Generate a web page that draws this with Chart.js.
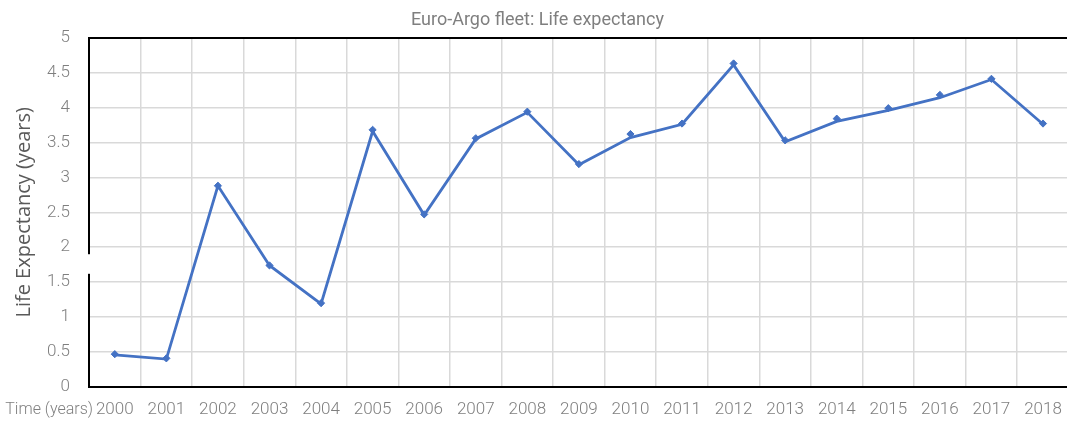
<!DOCTYPE html>
<html>
<head>
<meta charset="utf-8">
<script src="https://cdn.jsdelivr.net/npm/chart.js@4"></script>
<style>
  html, body { margin: 0; padding: 0; background: #fff; overflow: hidden; }
  #wrap { width: 1075px; height: 421px; }
</style>
</head>
<body>
<div id="wrap"><canvas id="lifeChart"></canvas></div>
<script>
// --- data ---
const years = ['2000', '2001', '2002', '2003', '2004', '2005', '2006', '2007', '2008', '2009',
               '2010', '2011', '2012', '2013', '2014', '2015', '2016', '2017', '2018'];
// the drawn line
const lineValues = [0.46, 0.40, 2.88, 1.74, 1.19, 3.66, 2.46, 3.55, 3.93, 3.18,
                    3.57, 3.76, 4.61, 3.51, 3.80, 3.96, 4.14, 4.40, 3.76];
// the diamond markers (sit a little off the line in places)
const markerValues = [0.47, 0.41, 2.88, 1.74, 1.20, 3.68, 2.47, 3.56, 3.94, 3.19,
                      3.62, 3.77, 4.63, 3.53, 3.84, 3.99, 4.18, 4.41, 3.77];
const yTicks = [0, 0.5, 1, 1.5, 2, 2.5, 3, 3.5, 4, 4.5, 5];

const BLUE = '#4472C4';
const TICK_GREY = '#7f7f7f';

// "Time (years)" sits left of the x labels, plus the white patch over the y axis near 1.6-1.9
const extrasPlugin = {
    id: 'extras',
    afterDraw(chart) {
        const { ctx, chartArea, scales } = chart;
        const y = scales.y;
        ctx.save();
        ctx.fillStyle = '#fff';
        const top = y.getPixelForValue(1.9);
        const bot = y.getPixelForValue(1.62);
        ctx.fillRect(chartArea.left - 44, top, 45, bot - top);
        ctx.fillStyle = TICK_GREY;
        ctx.font = '300 16px Roboto';
        ctx.textAlign = 'right';
        ctx.textBaseline = 'middle';
        ctx.fillText('Time (years)', chartArea.left + 4, chartArea.bottom + 23);
        ctx.restore();
    }
};

const ctx = document.getElementById('lifeChart').getContext('2d');
new Chart(ctx, {
    type: 'line',
    data: {
        labels: years,
        datasets: [
            {
                data: lineValues,
                borderColor: BLUE,
                borderWidth: 2.8,
                pointRadius: 0,
                tension: 0
            },
            {
                data: markerValues,
                showLine: false,
                pointStyle: 'rectRot',
                pointRadius: 3.6,
                pointBackgroundColor: BLUE,
                pointBorderColor: BLUE,
                pointBorderWidth: 1
            }
        ]
    },
    options: {
        responsive: true,
        maintainAspectRatio: false,
        animation: false,
        layout: { padding: { left: 0, right: 0, top: 0, bottom: 0 } },
        plugins: {
            legend: { display: false },
            tooltip: { enabled: false },
            title: {
                display: true,
                text: 'Euro-Argo fleet: Life expectancy',
                color: TICK_GREY,
                font: { family: '"Liberation Sans Narrow", Roboto, sans-serif', size: 18, weight: 'normal' },
                padding: { top: 10, bottom: 6 }
            }
        },
        scales: {
            x: {
                offset: true,
                grid: { offset: true, color: '#d9d9d9', lineWidth: 1.5, drawTicks: false },
                border: { color: '#000', width: 2 },
                ticks: {
                    color: TICK_GREY,
                    font: { family: 'Roboto', size: 17, weight: 300 },
                    padding: 13,
                    maxRotation: 0,
                    autoSkip: false
                },
                afterFit(scale) { scale.height = 34; }
            },
            y: {
                min: 0,
                max: 5,
                afterBuildTicks(scale) { scale.ticks = yTicks.map(v => ({ value: v })); },
                grid: {
                    color: c => c.tick && c.tick.value === 5 ? '#000' : '#d9d9d9',
                    lineWidth: c => c.tick && c.tick.value === 5 ? 2 : 1.5,
                    drawTicks: false
                },
                border: { color: '#000', width: 2 },
                ticks: {
                    color: TICK_GREY,
                    font: { family: 'Roboto', size: 17, weight: 300 },
                    padding: 19,
                    callback: v => String(v)
                },
                title: {
                    display: true,
                    text: 'Life Expectancy (years)',
                    color: '#595959',
                    font: { family: '"Open Sans", sans-serif', size: 20 },
                    padding: { top: 12, bottom: 0 }
                },
                afterFit(scale) { scale.width = 89; }
            }
        }
    },
    plugins: [extrasPlugin]
});
</script>
</body>
</html>
